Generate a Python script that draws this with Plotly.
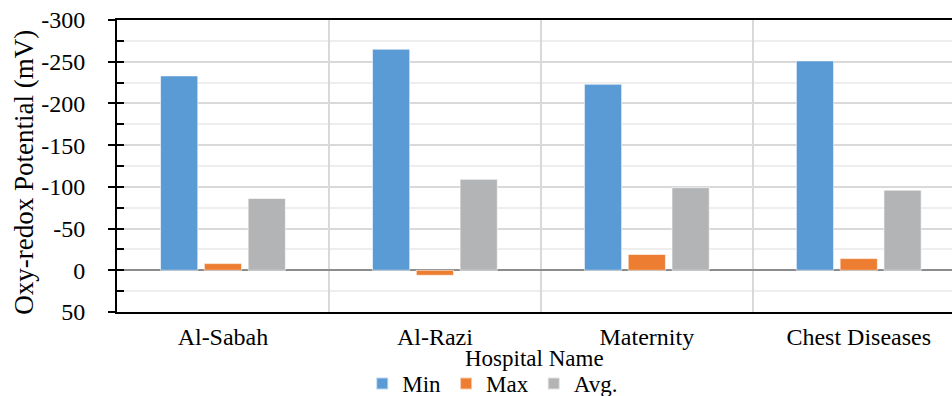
import plotly.graph_objects as go

hospitals = ["Al-Sabah", "Al-Razi", "Maternity", "Chest Diseases"]
min_vals = [-233, -265, -223, -251]
max_vals = [-8, 6, -19, -14]
avg_vals = [-86, -109, -99, -96]
y_ticks = [-300, -250, -200, -150, -100, -50, 0, 50]

FONT = "Liberation Serif"

fig = go.Figure()
series = [("Min", min_vals, "#5B9BD5"), ("Max", max_vals, "#ED7D31"), ("Avg.", avg_vals, "#B3B4B5")]
for name, vals, col in series:
    fig.add_trace(go.Bar(
        x=hospitals, y=vals, name=name,
        marker=dict(color=col, line=dict(color="rgba(255,255,255,0.6)", width=1)),
    ))

# invisible companion trace to carry the inward tick marks on the value axis
fig.add_trace(go.Scatter(x=hospitals, y=[None] * 4, yaxis="y2", showlegend=False, hoverinfo="skip"))

# axis titles
fig.add_annotation(text="Hospital Name", xref="paper", yref="paper", x=0.5, y=-0.16,
                   xanchor="center", yanchor="middle", showarrow=False,
                   font=dict(family=FONT, size=23, color="black"))
fig.add_annotation(text="Oxy-redox Potential (mV)", xref="paper", yref="paper",
                   x=-0.111, y=0.478, xanchor="center", yanchor="middle", textangle=-90,
                   showarrow=False, font=dict(family=FONT, size=27, color="black"))

fig.update_layout(
    width=952, height=396,
    margin=dict(l=117, r=0, t=20, b=84, autoexpand=False),
    paper_bgcolor="white", plot_bgcolor="white",
    font=dict(family=FONT, size=24, color="black"),
    barmode="group", bargap=0.38, bargroupgap=0.15,
    showlegend=True,
    legend=dict(orientation="h", x=0.45, xanchor="center",
                yref="paper", y=-0.245, yanchor="middle",
                font=dict(size=23), itemwidth=30, tracegroupgap=0,
                itemsizing="constant"),
    xaxis=dict(
        range=[-0.5, 3.44], type="category", automargin=False,
        tickson="boundaries", showgrid=True, gridcolor="#d9d9d9", gridwidth=1.5,
        ticks="", ticklabelstandoff=2,
        showline=True, linecolor="black", linewidth=2, mirror=True,
        tickfont=dict(size=24),
    ),
    yaxis=dict(
        range=[50, -300], tickvals=y_ticks, ticktext=[str(v) for v in y_ticks],
        automargin=False,
        showgrid=True, gridcolor="#d9d9d9", gridwidth=1.5,
        minor=dict(dtick=25, showgrid=True, gridcolor="#eeeeee", gridwidth=1.5),
        zeroline=True, zerolinecolor="#8c8c8c", zerolinewidth=2,
        showline=True, linecolor="black", linewidth=2,
        ticks="outside", ticklen=7, tickwidth=2, tickcolor="black",
        ticklabelstandoff=18,
        tickfont=dict(size=24),
    ),
    yaxis2=dict(
        overlaying="y", range=[50, -300], dtick=25, tick0=0, automargin=False,
        showgrid=False, zeroline=False, showticklabels=False,
        ticks="inside", ticklen=7, tickwidth=2, tickcolor="black",
        side="left",
    ),
)

fig.write_html("out.html")
